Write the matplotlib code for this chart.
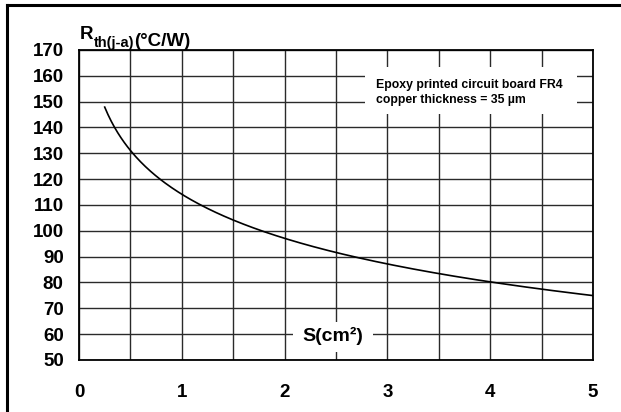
import numpy as np
import matplotlib.pyplot as plt
from matplotlib.lines import Line2D
from matplotlib.patches import Rectangle

plt.rcParams['font.family'] = ['Liberation Sans', 'DejaVu Sans']
plt.rcParams['font.weight'] = 'bold'

# thermal resistance junction-ambient vs copper area
area = [0.25, 0.35, 0.4, 0.5, 0.75, 1.0, 1.25, 1.5, 1.75, 2.0, 2.5, 3.0, 3.5, 4.0, 4.5, 5.0]
rth = [147.2, 140.3, 137.7, 130.8, 120.3, 114.1, 108.7, 104.1, 100.6, 97.2, 91.7, 87.1, 83.8, 80.0, 77.4, 74.9]

x_ticks = [0, 1, 2, 3, 4, 5]
y_ticks = list(range(50, 171, 10))

fig = plt.figure(figsize=(6.21, 4.12), dpi=100)
ax = fig.add_axes([79/621, 1 - 360/412, (593-79)/621, (360-50)/412])

# smooth curve: cubic fit of the read-off points in log-log space
coef = np.polyfit(np.log(area), np.log(rth), 3)
xs = np.linspace(area[0], area[-1], 300)
ys = np.exp(np.polyval(coef, np.log(xs)))
ax.plot(xs, ys, color='black', lw=1.2, zorder=4)

ax.set_xlim(0, 5)
ax.set_ylim(50, 170)
ax.set_xticks(x_ticks)
ax.set_xticks(np.arange(0, 5.01, 0.5), minor=True)
ax.set_yticks(y_ticks)
ax.grid(True, which='both', color='#2a2a2a', lw=1.0)
ax.tick_params(which='both', length=0)
ax.tick_params(axis='x', pad=17, labelsize=13.5)
ax.tick_params(axis='y', pad=11, labelsize=13.5)
for lab in ax.get_xticklabels() + ax.get_yticklabels():
    lab.set_fontweight('bold')
for sp in ax.spines.values():
    sp.set_linewidth(1.3)
    sp.set_color('black')

# white boxes behind the labels inside the grid
ax.add_patch(Rectangle((2.78, 145.2), 2.06, 18.2, facecolor='white', edgecolor='none', zorder=3))
ax.text(2.89, 153.6, "Epoxy printed circuit board FR4\ncopper thickness = 35 µm",
        fontsize=8.8, fontweight='bold', va='center', ha='left', linespacing=1.3, zorder=5)

ax.add_patch(Rectangle((2.08, 53.1), 0.78, 11.6, facecolor='white', edgecolor='none', zorder=3))
ax.text(2.47, 59.3, "S(cm²)", fontsize=14, fontweight='bold', ha='center', va='center', zorder=5)

# axis title with subscript
t1 = fig.text(80/621, 1 - 39/412, "R", fontsize=13.5, fontweight='bold', va='baseline')
t2 = ax.annotate("th(j-a)", xy=(1, 0), xycoords=t1, xytext=(0.3, -3), textcoords='offset points',
                 fontsize=10.5, fontweight='bold', va='baseline', ha='left', annotation_clip=False)
ax.annotate("(°C/W)", xy=(1, 0), xycoords=t2, xytext=(0, 3), textcoords='offset points',
            fontsize=13.5, fontweight='bold', va='baseline', ha='left', annotation_clip=False)

# frame lines along top and left edges
fig.add_artist(Line2D([7/621, 1], [1 - 5/412, 1 - 5/412], color='black', lw=2.2, transform=fig.transFigure))
fig.add_artist(Line2D([7/621, 7/621], [0, 1 - 5/412], color='black', lw=2.2, transform=fig.transFigure))

fig.savefig("out.png", dpi=100)
